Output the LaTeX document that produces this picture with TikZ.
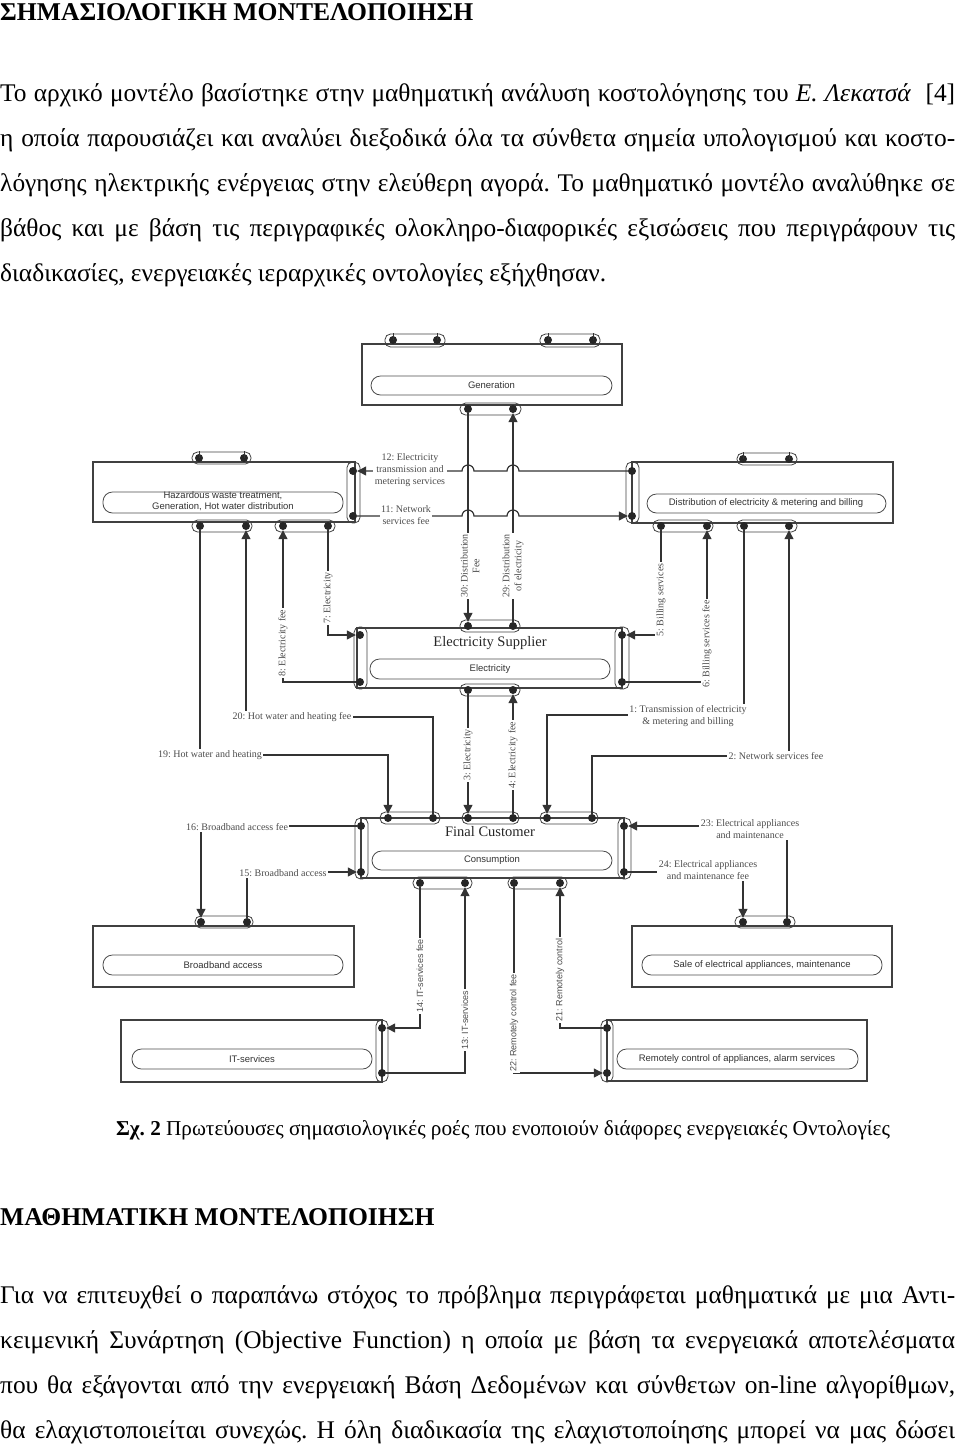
\documentclass[tikz,border=0pt]{standalone}
\usepackage{fontspec}
\setmainfont{Liberation Serif}
\newfontfamily\dsans{Liberation Sans}
\usetikzlibrary{arrows.meta}
\newcommand{\myjl}[1]{\makebox[955pt][s]{#1}}
\frenchspacing
\begin{document}
\begin{tikzpicture}[x=1pt,y=-1pt,
  box/.style={draw=black!75, line width=1.1pt},
  inner/.style={draw=black!70, line width=0.8pt, rounded corners=9.5pt},
  pill/.style={draw=black!75, line width=0.8pt, rounded corners=5.5pt},
  dot/.style={circle, fill=black!85, inner sep=0pt, minimum size=8pt},
  conn/.style={draw=black!80, line width=1.2pt},
  arr/.style={conn, -{Triangle[length=9pt,width=9pt]}},
  tick/.style={draw=black!80, line width=0.8pt},
  lbl/.style={font=\fontsize{10}{11.8}\selectfont, text=black!70, fill=white, inner sep=1.5pt, align=center},
  slbl/.style={lbl, font=\dsans\fontsize{9}{10.5}\selectfont},
  btxt/.style={font=\dsans\fontsize{9.5}{10.5}\selectfont, text=black!80, align=center},
  big/.style={font=\fontsize{14.5}{16}\selectfont, text=black!85},
  body/.style={anchor=base west, inner sep=0pt, font=\fontsize{25.4}{30}\selectfont},
  head/.style={anchor=base west, inner sep=0pt, font=\bfseries\fontsize{25.6}{30}\selectfont},
]
\useasboundingbox (0,0) rectangle (960,1446);

% ---------------- text above ----------------
\node[head] (title1) at (0,20) {ΣΗΜΑΣΙΟΛΟΓΙΚΗ ΜΟΝΤΕΛΟΠΟΙΗΣΗ};
\node[body] (p1a) at (0,101) {\myjl{Το αρχικό μοντέλο βασίστηκε στην μαθηματική ανάλυση κοστολόγησης του \textit{Ε. Λεκατσά}\ \ [4]}};
\node[body] (p1b) at (0,146) {\myjl{η οποία παρουσιάζει και αναλύει διεξοδικά όλα τα σύνθετα σημεία υπολογισμού και κοστο-}};
\node[body] (p1c) at (0,191) {\myjl{λόγησης ηλεκτρικής ενέργειας στην ελεύθερη αγορά. Το μαθηματικό μοντέλο αναλύθηκε σε}};
\node[body] (p1d) at (0,236) {\myjl{βάθος και με βάση τις περιγραφικές ολοκληρο-διαφορικές εξισώσεις που περιγράφουν τις}};
\node[body] (p1e) at (0,281) {διαδικασίες, ενεργειακές ιεραρχικές οντολογίες εξήχθησαν.};

% ---------------- Generation ----------------
\draw[box] (362,344) rectangle (622,405);
\draw[inner] (371,376) rectangle (612,395);
\node[btxt] (tgen) at (491.5,385.5) {Generation};
\draw[pill] (385,334) rectangle (445,347);
\draw[pill] (540,334) rectangle (600,347);
\draw[pill] (460,403) rectangle (521,415);
\node[dot] (ga1) at (393,340) {}; \node[dot] (ga2) at (437,340) {};
\node[dot] (ga3) at (548,340) {}; \node[dot] (ga4) at (593,340) {};
\node[dot] (gb1) at (468,409) {}; \node[dot] (gb2) at (513,409) {};
\foreach \d in {ga1,ga2,ga3,ga4} \draw[tick] (\d.center) -- ++(0,-7);

% ---------------- Hazardous (upper left) ----------------
\draw[box] (93,462) rectangle (355,522);
\draw[inner] (103,492) rectangle (343,513);
\node[btxt, font=\dsans\fontsize{9.5}{11}\selectfont] (thaz) at (223,501) {Hazardous waste treatment,\\Generation, Hot water distribution};
\draw[pill] (192,452) rectangle (251,464);
\draw[pill] (347,462) rectangle (360,523);
\draw[pill] (192,520) rectangle (252,532);
\draw[pill] (275,520) rectangle (335,532);
\node[dot] (ht1) at (199,458) {}; \node[dot] (ht2) at (244,458) {};
\foreach \d in {ht1,ht2} \draw[tick] (\d.center) -- ++(0,-7);
\node[dot] (hr1) at (353,471) {}; \node[dot] (hr2) at (353,516) {};
\node[dot] (hb1) at (200,526) {}; \node[dot] (hb2) at (246,526) {};
\node[dot] (hb3) at (283,526) {}; \node[dot] (hb4) at (328,526) {};

% ---------------- Distribution (upper right) ----------------
\draw[box] (632,462) rectangle (893,523);
\draw[inner] (647,494) rectangle (886,513);
\node[btxt] (tdis) at (766,503.5) {Distribution of electricity \& metering and billing};
\draw[pill] (626,462) rectangle (639,523);
\draw[pill] (737,453) rectangle (797,465);
\draw[pill] (653,520) rectangle (713,532);
\draw[pill] (737,520) rectangle (797,532);
\node[dot] (dl1) at (632,471) {}; \node[dot] (dl2) at (632,516) {};
\node[dot] (dt1) at (743,459) {}; \node[dot] (dt2) at (789,459) {};
\foreach \d in {dt1,dt2} \draw[tick] (\d.center) -- ++(0,-7);
\node[dot] (db1) at (661,526) {}; \node[dot] (db2) at (707,526) {};
\node[dot] (db3) at (744,526) {}; \node[dot] (db4) at (789,526) {};

% ---------------- Electricity Supplier ----------------
\draw[box] (357,628) rectangle (622,688);
\draw[inner] (370,659) rectangle (610,679);
\node[big] (tes) at (490,643) {Electricity Supplier};
\node[btxt] (tel) at (490,669) {Electricity};
\draw[pill] (354,627) rectangle (367,689);
\draw[pill] (615,627) rectangle (629,689);
\draw[pill] (460,620) rectangle (520,632);
\draw[pill] (460,684) rectangle (520,696);
\node[dot] (sl1) at (360,635) {}; \node[dot] (sl2) at (360,682) {};
\node[dot] (sr1) at (622,635) {}; \node[dot] (sr2) at (622,682) {};
\node[dot] (st1) at (468,626) {}; \node[dot] (st2) at (513,626) {};
\node[dot] (sb1) at (468,690) {}; \node[dot] (sb2) at (513,690) {};

% ---------------- Final Customer ----------------
\draw[box] (361,818) rectangle (624,878);
\draw[inner] (372,851) rectangle (612,870);
\node[big] (tfc) at (490,832) {Final Customer};
\node[btxt] (tco) at (492,860.5) {Consumption};
\draw[pill] (355,818) rectangle (368,879);
\draw[pill] (618,818) rectangle (631,879);
\draw[pill] (380,812) rectangle (440,824);
\draw[pill] (462,812) rectangle (519,824);
\draw[pill] (540,812) rectangle (598,824);
\draw[pill] (413,877) rectangle (472,889);
\draw[pill] (508,877) rectangle (567,889);
\node[dot] (fl1) at (361,826) {}; \node[dot] (fl2) at (361,872) {};
\node[dot] (fr1) at (624,826) {}; \node[dot] (fr2) at (624,872) {};
\node[dot] (ft1) at (388,818) {}; \node[dot] (ft2) at (433,818) {};
\node[dot] (ft3) at (468,818) {}; \node[dot] (ft4) at (513,818) {};
\node[dot] (ft5) at (547,818) {}; \node[dot] (ft6) at (592,818) {};
\node[dot] (fb1) at (420,883) {}; \node[dot] (fb2) at (465,883) {};
\node[dot] (fb3) at (514,883) {}; \node[dot] (fb4) at (560,883) {};

% ---------------- Broadband ----------------
\draw[box] (93,926) rectangle (354,987);
\draw[inner] (103,955) rectangle (343,975);
\node[btxt] (tbb) at (223,965) {Broadband access};
\draw[pill] (195,916) rectangle (253,928);
\node[dot] (bt1) at (201,922) {}; \node[dot] (bt2) at (247,922) {};

% ---------------- IT-services ----------------
\draw[box] (121,1020) rectangle (382,1082);
\draw[inner] (132,1049) rectangle (372,1069);
\node[btxt] (tit) at (252,1059) {IT-services};
\draw[pill] (376,1020) rectangle (388,1082);
\node[dot] (ir1) at (382,1028) {}; \node[dot] (ir2) at (382,1073) {};

% ---------------- Sale ----------------
\draw[box] (632,926) rectangle (892,987);
\draw[inner] (642,955) rectangle (882,975);
\node[btxt] (tsa) at (762,965) {Sale of electrical appliances, maintenance};
\draw[pill] (735,916) rectangle (795,928);
\node[dot] (at1) at (743,922) {}; \node[dot] (at2) at (787,922) {};

% ---------------- Remote ----------------
\draw[box] (607,1020) rectangle (867,1081);
\draw[inner] (617,1049) rectangle (858,1069);
\node[btxt] (tre) at (737,1059) {Remotely control of appliances, alarm services};
\draw[pill] (601,1020) rectangle (613,1082);
\node[dot] (rl1) at (607,1028) {}; \node[dot] (rl2) at (607,1073) {};

% ---------------- connectors ----------------
\draw[arr] (gb1) -- (st1);
\draw[arr] (st2) -- (gb2);
\draw[arr] (dl1) -- (519,471) arc[start angle=0,end angle=180,radius=6pt] -- (474,471) arc[start angle=0,end angle=180,radius=6pt] -- (hr1);
\draw[arr] (hr2) -- (462,516) arc[start angle=180,end angle=0,radius=6pt] -- (507,516) arc[start angle=180,end angle=0,radius=6pt] -- (dl2);
\draw[arr] (hb4) |- (sl1);
\draw[arr] (sl2) -| (hb3);
\draw[arr] (db1) |- (sr1);
\draw[arr] (sr2) -| (db2);
\draw[arr] (hb1) -- (200,755) -- (388,755) -- (ft1);
\draw[arr] (ft2) -- (433,717) -- (246,717) -- (hb2);
\draw[arr] (sb1) -- (ft3);
\draw[arr] (ft4) -- (sb2);
\draw[arr] (db3) -- (744,715) -- (547,715) -- (ft5);
\draw[arr] (ft6) -- (592,756) -- (789,756) -- (db4);
\draw[arr] (fl1) -- (201,826) -- (bt1);
\draw[arr] (bt2) -- (247,872) -- (fl2);
\draw[arr] (fb1) |- (ir1);
\draw[arr] (ir2) -| (fb2);
\draw[arr] (fb3) |- (rl2);
\draw[arr] (rl1) -| (fb4);
\draw[arr] (at2) -- (787,826) -- (fr1);
\draw[arr] (fr2) -- (743,872) -- (at1);

% ---------------- labels ----------------
\node[lbl] (l12) at (410,470) {12: Electricity\\transmission and\\metering services};
\node[lbl] (l11) at (406,515) {11: Network\\services fee};
\node[lbl, rotate=90] (l30) at (470,566) {30: Distribution\\Fee};
\node[lbl, rotate=90] (l29) at (513,566) {29: Distribution\\of electricity};
\node[lbl, rotate=90] (l7) at (328,598) {7: Electricity};
\node[lbl, rotate=90] (l8) at (283,643) {8: Electricity fee};
\node[lbl, rotate=90] (l5) at (661,600) {5: Billing services};
\node[lbl, rotate=90] (l6) at (707,644) {6: Billing services fee};
\node[lbl] (l20) at (292,717) {20: Hot water and heating fee};
\node[lbl] (l19) at (210,755) {19: Hot water and heating};
\node[lbl] (l1) at (688,716) {1: Transmission of electricity\\\& metering and billing};
\node[lbl] (l2) at (776,756) {2: Network services fee};
\node[lbl, rotate=90] (l3) at (468,755) {3: Electricity};
\node[lbl, rotate=90] (l4) at (513,755) {4: Electricity fee};
\node[lbl] (l16) at (237,827) {16: Broadband access fee};
\node[lbl] (l15) at (283,873) {15: Broadband access};
\node[lbl] (l23) at (750,829) {23: Electrical appliances\\and maintenance};
\node[lbl] (l24) at (708,870) {24: Electrical appliances\\and maintenance fee};
\node[slbl, rotate=90] (l14) at (420,976) {14: IT-services fee};
\node[slbl, rotate=90] (l13) at (465,1020) {13: IT-services};
\node[slbl, rotate=90] (l21) at (560,980) {21: Remotely control};
\node[slbl, rotate=90] (l22) at (514,1023) {22: Remotely control fee};

% ---------------- text below ----------------
\node[anchor=base, inner sep=0pt, font=\fontsize{21.2}{25}\selectfont] (cap) at (503,1135) {\textbf{Σχ. 2} Πρωτεύουσες σημασιολογικές ροές που ενοποιούν διάφορες ενεργειακές Οντολογίες};
\node[head] (title2) at (0,1225) {ΜΑΘΗΜΑΤΙΚΗ ΜΟΝΤΕΛΟΠΟΙΗΣΗ};
\node[body] (p2a) at (0,1303) {\myjl{Για να επιτευχθεί ο παραπάνω στόχος το πρόβλημα περιγράφεται μαθηματικά με μια Αντι-}};
\node[body] (p2b) at (0,1348) {\myjl{κειμενική Συνάρτηση (Objective Function) η οποία με βάση τα ενεργειακά αποτελέσματα}};
\node[body] (p2c) at (0,1393) {\myjl{που θα εξάγονται από την ενεργειακή Βάση Δεδομένων και σύνθετων on-line αλγορίθμων,}};
\node[body] (p2d) at (0,1438) {\myjl{θα ελαχιστοποιείται συνεχώς. Η όλη διαδικασία της ελαχιστοποίησης μπορεί να μας δώσει}};
\end{tikzpicture}
\end{document}
